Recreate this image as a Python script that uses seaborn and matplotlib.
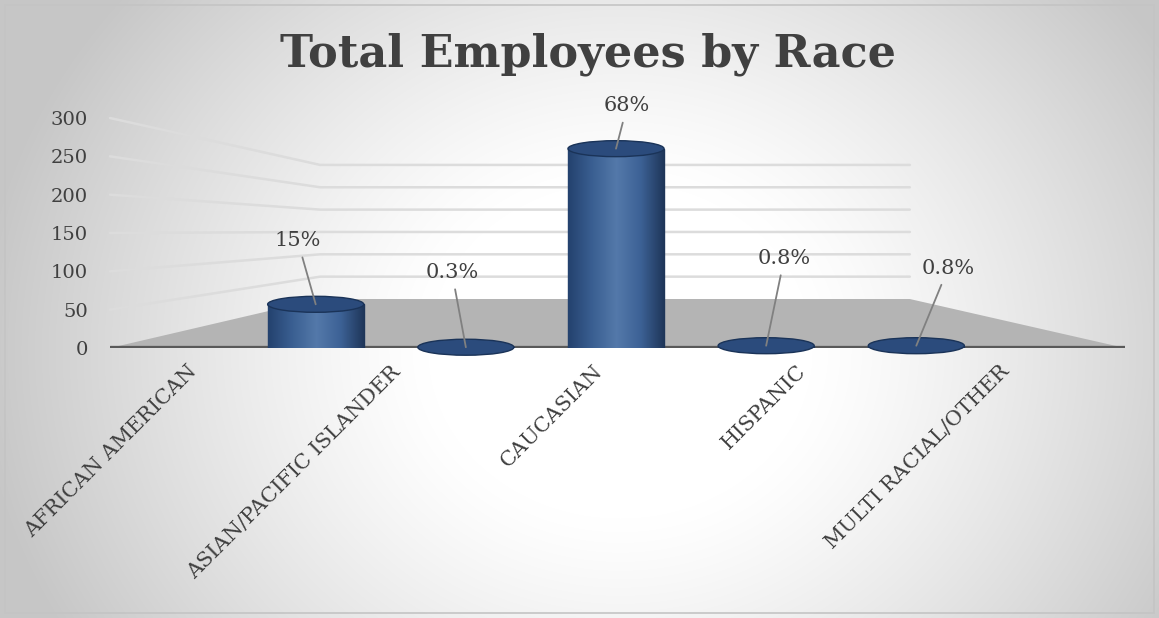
import numpy as np
import pandas as pd
import matplotlib
matplotlib.use("Agg")
import matplotlib.pyplot as plt
import seaborn as sns
from matplotlib.patches import Ellipse, Polygon, Rectangle
from matplotlib.colors import LinearSegmentedColormap

# ---- data ----
categories = ["AFRICAN AMERICAN", "ASIAN/PACIFIC ISLANDER", "CAUCASIAN",
              "HISPANIC", "MULTI RACIAL/OTHER"]
counts = [57, 1, 260, 3, 3]
pct_labels = ["15%", "0.3%", "68%", "0.8%", "0.8%"]
y_ticks = [0, 50, 100, 150, 200, 250, 300]

df = pd.DataFrame({"race": categories, "count": counts})

# label placement (layout only, in points)
label_offsets = [(-13, 39), (-10, 47), (8, 24), (13, 56), (23, 49)]

sns.set_style("white")
plt.rcParams["font.family"] = ["DejaVu Serif"]

W, H = 1159, 618
fig = plt.figure(figsize=(W / 100, H / 100), dpi=100)

# background radial gradient
bg = fig.add_axes([0, 0, 1, 1], zorder=0)
yy, xx = np.mgrid[0:H, 0:W]
cx, cy = 620, 350
d = np.sqrt(((xx - cx) / 640.0) ** 2 + ((yy - cy) / 560.0) ** 2)
g = 1.0 - 0.22 * np.clip((d - 0.3) / 0.7, 0, 1) ** 1.2
bg.imshow(np.dstack([g, g, g]), extent=[0, W, H, 0], aspect="auto")
bg.add_patch(Rectangle((5, 5), W - 10, H - 10, fill=False, ec="#C4C4C4", lw=1.2))
bg.set_xlim(0, W)
bg.set_ylim(H, 0)
bg.axis("off")

# main axes (pixel placement)
left, right, top, bottom = 110, 1125, 118, 348
ax = fig.add_axes([left / W, 1 - bottom / H, (right - left) / W, (bottom - top) / H], zorder=1)
ax.patch.set_alpha(0)

# perspective floor and wall gridlines (decorative, follow the y ticks)
fb, fl, fr, wall_h = 0.213, 0.207, 0.788, 0.583
ax.add_patch(Polygon([(0, 0), (1.0, 0), (fr, fb), (fl, fb)], closed=True,
                     transform=ax.transAxes, fc="#B4B4B4", ec="none", zorder=1))
for t in y_ticks[1:]:
    yl = t / y_ticks[-1]
    yb = fb + yl * wall_h
    ax.plot([0, fl, fr], [yl, yb, yb], transform=ax.transAxes,
            color="#DCDCDC", lw=1.8, zorder=0.5, clip_on=False)

sns.barplot(data=df, x="race", y="count", color="#2E5283", width=0.64,
            ax=ax, zorder=3, edgecolor="#1F3864", linewidth=1.0)

cyl = LinearSegmentedColormap.from_list(
    "cyl", ["#24426E", "#3A5F92", "#5479AA", "#3D6296", "#1E3558"])
grad = np.linspace(0, 1, 128)[None, :]
px_per_unit = (bottom - top) / 300.0
eh = 16 / px_per_unit

bars = list(ax.patches)[1:]
for p, lab, off in zip(bars, pct_labels, label_offsets):
    x0, w, h = p.get_x(), p.get_width(), p.get_height()
    xc = x0 + w / 2
    im = ax.imshow(grad, extent=[x0, x0 + w, 0, h], aspect="auto", cmap=cyl,
                   zorder=3.2)
    im.set_clip_path(p)
    ax.add_patch(Ellipse((xc, h), w, eh, fc="#2B4B7C", ec="#1A3358",
                         lw=1.0, zorder=4, clip_on=False))
    ax.annotate(lab, xy=(xc, h), xytext=off, textcoords="offset points",
                ha="center", va="bottom", fontsize=15, color="#404040",
                arrowprops=dict(arrowstyle="-", color="#808080", lw=1.3,
                                shrinkA=3, shrinkB=0), zorder=5)

ax.axhline(0, color="#595959", lw=3.8, zorder=2)

ax.set_xlim(-1.37, 5.39)
ax.set_ylim(0, 300)
ax.set_yticks(y_ticks)
# category labels sit along the front edge of the floor
x0l, x1l = ax.get_xlim()
n = len(categories)
ax.set_xticks([x0l + (i + 0.5) / n * (x1l - x0l) - 0.16 for i in range(n)])
ax.set_xticklabels(categories)
ax.tick_params(axis="y", labelsize=14, labelcolor="#404040", length=0, pad=16)
ax.tick_params(axis="x", labelsize=15, labelcolor="#404040", length=0, pad=10)
plt.setp(ax.get_xticklabels(), rotation=45, ha="right", rotation_mode="anchor")
ax.set_xlabel("")
ax.set_ylabel("")
for s in ax.spines.values():
    s.set_visible(False)

fig.text(0.507, 0.913, "Total Employees by Race", ha="center", va="center",
         fontsize=32, fontweight="bold", color="#404040", family="DejaVu Serif")

fig.savefig("out.png", dpi=100)
